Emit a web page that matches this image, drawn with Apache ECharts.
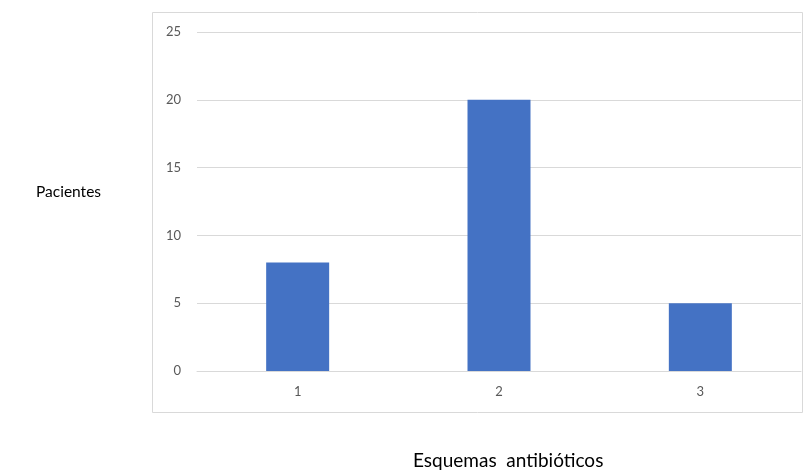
<!DOCTYPE html>
<html>
<head>
<meta charset="utf-8">
<script src="https://cdn.jsdelivr.net/npm/echarts@6/dist/echarts.min.js"></script>
<style>
html,body{margin:0;padding:0;background:#fff;}
#chart{width:811px;height:471px;}
</style>
</head>
<body>
<div id="chart"></div>
<script>
// Number of patients per antibiotic scheme
const categories = ['1', '2', '3'];
const pacientes = [8, 20, 5];
const yTicks = { min: 0, max: 25, interval: 5 };

const chart = echarts.init(document.getElementById('chart'));
chart.setOption({
  animation: false,
  backgroundColor: '#ffffff',
  grid: { left: 197, right: 10, top: 32, bottom: 100 },
  graphic: [
    {
      type: 'rect',
      shape: { x: 152.5, y: 12.5, width: 650, height: 400 },
      style: { fill: 'none', stroke: '#d9d9d9', lineWidth: 1 },
      silent: true
    },
    {
      type: 'text',
      left: 36, top: 184,
      style: { text: 'Pacientes', font: '15.5px Lato, "Open Sans", sans-serif', fill: '#000' }
    },
    {
      type: 'text',
      left: 413, top: 451,
      style: { text: 'Esquemas  antibióticos', font: '19px Lato, "Open Sans", sans-serif', fill: '#000' }
    }
  ],
  xAxis: {
    type: 'category',
    data: categories,
    axisLine: { show: true, lineStyle: { color: '#d9d9d9' } },
    axisTick: { show: false },
    axisLabel: { color: '#595959', fontSize: 13, fontFamily: 'Lato, "Open Sans", sans-serif', margin: 14 }
  },
  yAxis: {
    type: 'value',
    min: yTicks.min, max: yTicks.max, interval: yTicks.interval,
    axisLine: { show: false },
    axisTick: { show: false },
    splitLine: { lineStyle: { color: '#d9d9d9' } },
    axisLabel: { color: '#595959', fontSize: 13, fontFamily: 'Lato, "Open Sans", sans-serif', margin: 16 }
  },
  series: [{
    type: 'bar',
    data: pacientes,
    barWidth: 63,
    itemStyle: { color: '#4472c4' }
  }]
});
</script>
</body>
</html>
